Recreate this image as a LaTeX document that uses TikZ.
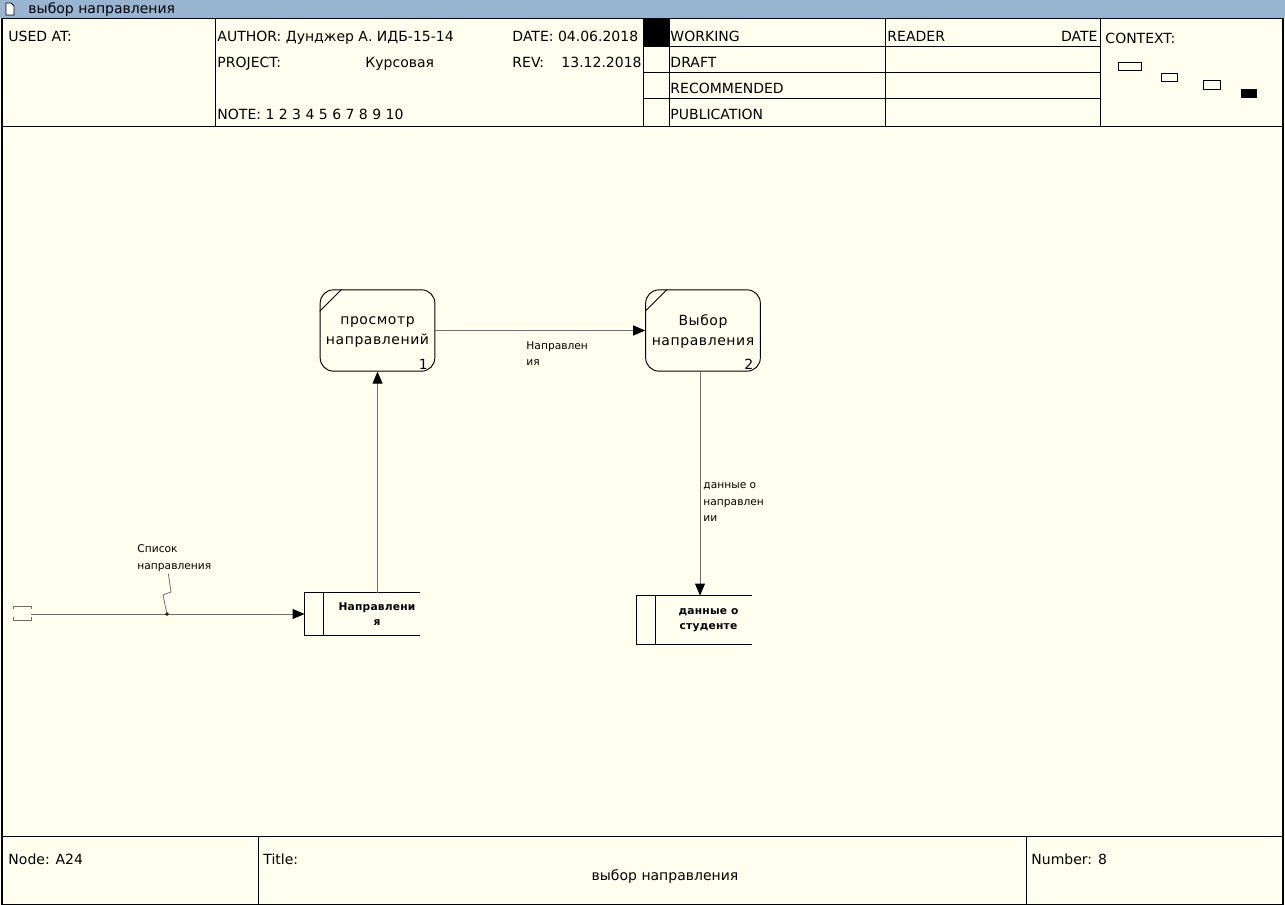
\documentclass[tikz,border=0pt]{standalone}
\usepackage{fontspec}
\setmainfont{DejaVu Sans}
\definecolor{idbar}{RGB}{153,180,209}
\definecolor{idpaper}{RGB}{255,255,240}
\definecolor{idline}{RGB}{110,110,110}
\usetikzlibrary{arrows.meta,positioning,calc}

\begin{document}
\begin{tikzpicture}[
  x=0.75pt,y=-0.75pt,line width=0.7pt,
  every node/.style={font=\fontsize{10.5}{12}\selectfont,inner sep=0pt},
  hdrtext/.style={anchor=base west},
  procbox/.style={draw,rounded corners=10pt,minimum width=86pt,minimum height=61pt,
                  align=center,text depth=-3.5pt,
                  font=\fontsize{10.5}{15}\selectfont\addfontfeature{LetterSpace=4}},
  storebox/.style={minimum width=64.5pt,align=center,
                   font=\fontsize{8}{11.5}\selectfont\bfseries\addfontfeature{LetterSpace=2}},
  flowlabel/.style={anchor=north west,align=left,font=\fontsize{8}{12.5}\selectfont},
  flow/.style={idline,-{Triangle[length=9pt,width=7.5pt,color=black]}},
]
  \useasboundingbox (0,0) rectangle (1285,905);

  % window bar
  \fill[idbar] (0,0) rectangle (1285,18);
  \draw[fill=white,line width=0.6pt] (6,3) -- (11,3) -- (14,6) -- (14,15) -- (6,15) -- cycle;
  \node[hdrtext] (bartitle) at (28,14) {выбор направления};

  % sheet
  \fill[idpaper] (0,18) rectangle (1285,905);
  \draw[line width=0.8pt] (2,18.5) rectangle (1283,904.5);

  % header frame
  \draw (2,126) -- (1283,126);
  \foreach \x in {215,643,669,885,1100} \draw (\x,18) -- (\x,126);
  \foreach \y in {46,72,98} \draw (643,\y) -- (1100,\y);
  \fill (643,18) rectangle (669,46);

  \node[hdrtext] (usedat)   at (8,42)    {USED AT:};
  \node[hdrtext] (author)   at (217,42)  {AUTHOR: Дунджер А. ИДБ-15-14};
  \node[hdrtext] (date)     at (512,42)  {DATE: 04.06.2018};
  \node[hdrtext] (project)  at (217,68)  {PROJECT:};
  \node[hdrtext] (projname) at (365,68)  {Курсовая};
  \node[hdrtext] (rev)      at (512,68)  {REV:};
  \node[hdrtext] (revdate)  at (561,68)  {13.12.2018};
  \node[hdrtext] (note)     at (217,120) {NOTE: 1 2 3 4 5 6 7 8 9 10};
  \node[hdrtext] (working)  at (670,42)  {WORKING};
  \node[hdrtext] (draft)    at (670,68)  {DRAFT};
  \node[hdrtext] (recom)    at (670,94)  {RECOMMENDED};
  \node[hdrtext] (publ)     at (670,120) {PUBLICATION};
  \node[hdrtext] (reader)   at (887,42)  {READER};
  \node[anchor=base east] (rdate) at (1098,42) {DATE};
  \node[hdrtext] (context)  at (1105,44) {CONTEXT:};

  % context boxes
  \draw (1118,62) rectangle (1141,70);
  \draw (1161,73) rectangle (1177,81);
  \draw (1203,80) rectangle (1220,89);
  \fill (1241,89) rectangle (1257,98);

  % footer frame
  \draw (2,836) -- (1283,836);
  \foreach \x in {258,1026} \draw (\x,836) -- (\x,905);
  \node[hdrtext] (nodeid)    at (8,864)    {Node: A24};
  \node[hdrtext] (titlelbl)  at (263,864)  {Title:};
  \node[anchor=base] (titletext) at (665,880) {выбор направления};
  \node[hdrtext] (number)    at (1031,864) {Number: 8};

  % processes
  \node[procbox] (view)   at (377.5,330.5) {просмотр\\направлений};
  \node[procbox] (choose) at (703,330.5)   {Выбор\\направления};
  \foreach \p/\n in {view/1,choose/2}{
    \draw ($(\p.north west)+(0,22)$) -- ($(\p.north west)+(22,0)$);
    \node[anchor=base east] (\p num) at ($(\p.south east)+(-7,-2)$) {\n};
  }

  % data stores
  \node[storebox,minimum height=31.5pt] (dirstore)  at (377,614)   {Направлени\\я};
  \node[storebox,minimum height=36pt]   (studstore) at (708.5,620) {данные о\\студенте};
  \foreach \s in {dirstore,studstore}{
    \draw (\s.north east) -| ($(\s.south west)+(-29,0)$) -- (\s.south east);
    \draw ($(\s.north west)+(-10,0)$) -- ($(\s.south west)+(-10,0)$);
  }

  % flows
  \draw[flow] (view) -- (choose);
  \node[flowlabel] (dirlbl) at (526,341) {Направлен\\ия};

  \draw[flow] (dirstore.north -| view.south) -- (view.south);

  \draw[flow] ([xshift=-2.25pt]choose.south) -- ([xshift=-2.25pt]choose.south |- studstore.north);
  \node[flowlabel] (datalbl) at (703,482) {данные о\\направлен\\ии};

  % external input
  \coordinate (ext) at (31,614);
  \coordinate (dirin) at ($(dirstore.west)+(-29,0)$);
  \draw[idline,line width=0.6pt] (13,609) |- (31,606) -- (31,609);
  \draw[idline,line width=0.6pt] (13,617) |- (31,620) -- (31,617);
  \draw[flow] (ext) -- (dirin);
  \coordinate (tap) at (167,614);
  \fill (tap) circle (1.8);
  \node[flowlabel] (listlbl) at (137,544) {Список\\направления};
  \draw[idline,line width=0.6pt] (tap) -- (163,595) -- (171,592) -- ($(listlbl.south)+(-6,2)$);
\end{tikzpicture}
\end{document}
